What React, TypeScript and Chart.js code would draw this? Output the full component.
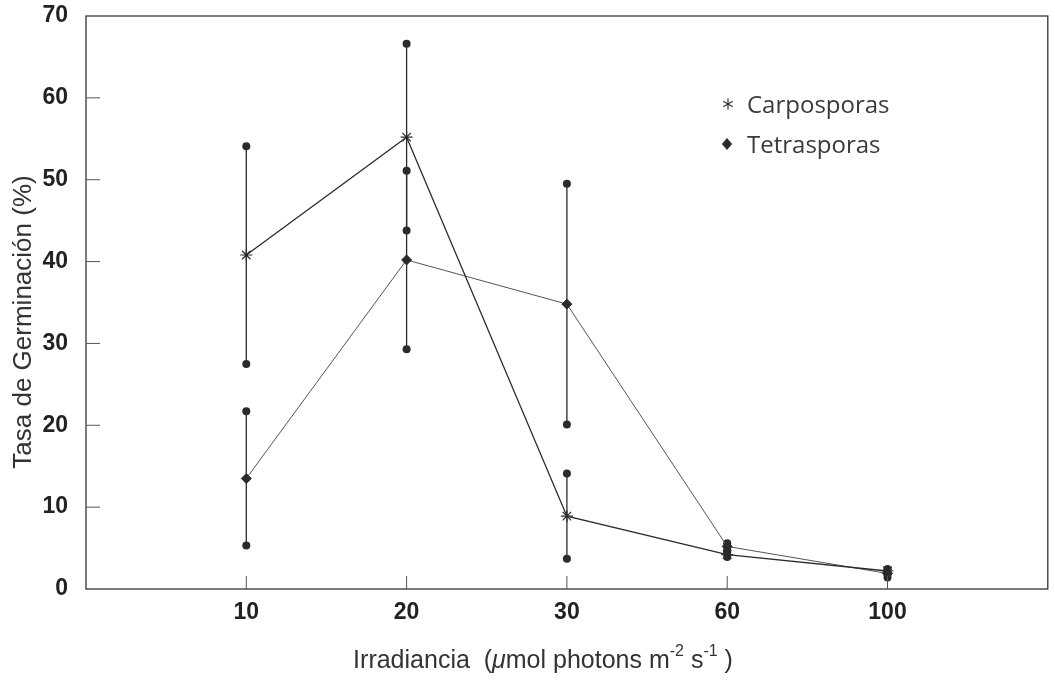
import React, { useEffect, useRef } from 'react';
import { Chart, registerables } from 'chart.js';

Chart.register(...registerables);

const irradiance = ['10', '20', '30', '60', '100'];
const carpoMean = [40.8, 55.2, 8.9, 4.2, 2.2];
const carpoErr = [13.3, 11.4, 5.2, 0.3, 0.2];
const tetraMean = [13.5, 40.2, 34.8, 5.2, 1.9];
const tetraErr = [8.2, 10.9, 14.7, 0.4, 0.5];
const yTickValues = [0, 10, 20, 30, 40, 50, 60, 70];
const legendLabels = ['Carposporas', 'Tetrasporas'];
const yTitle = 'Tasa de Germinación (%)';

const INK = '#2b2b2b';

function drawStar(ctx: CanvasRenderingContext2D, x: number, y: number, r: number) {
  ctx.beginPath();
  for (let i = 0; i < 3; i++) {
    const a = Math.PI / 2 + (i * Math.PI) / 3;
    ctx.moveTo(x + r * Math.cos(a), y + r * Math.sin(a));
    ctx.lineTo(x - r * Math.cos(a), y - r * Math.sin(a));
  }
  ctx.stroke();
}

function drawDiamond(ctx: CanvasRenderingContext2D, x: number, y: number, r: number) {
  ctx.beginPath();
  ctx.moveTo(x, y - r);
  ctx.lineTo(x + r * 0.85, y);
  ctx.lineTo(x, y + r);
  ctx.lineTo(x - r * 0.85, y);
  ctx.closePath();
  ctx.fill();
}

const decorPlugin = {
  id: 'decor',
  beforeDatasetsDraw(chart: any) {
    const { ctx, scales } = chart;
    const x = scales.x;
    const y = scales.y;
    ctx.save();
    ctx.strokeStyle = INK;
    ctx.fillStyle = INK;
    ctx.lineWidth = 1.3;
    const groups = [
      [carpoMean, carpoErr],
      [tetraMean, tetraErr],
    ];
    groups.forEach(([m, e]) => {
      m.forEach((v, i) => {
        const px = x.getPixelForValue(i);
        const top = y.getPixelForValue(v + e[i]);
        const bot = y.getPixelForValue(v - e[i]);
        ctx.beginPath();
        ctx.moveTo(px, top);
        ctx.lineTo(px, bot);
        ctx.stroke();
        [top, bot].forEach((py) => {
          ctx.beginPath();
          ctx.arc(px, py, 4, 0, Math.PI * 2);
          ctx.fill();
        });
      });
    });
    ctx.restore();
  },
  afterDraw(chart: any) {
    const { ctx, chartArea: a, scales } = chart;
    const x = scales.x;
    const y = scales.y;
    ctx.save();
    // frame
    ctx.strokeStyle = '#333';
    ctx.lineWidth = 1.3;
    ctx.strokeRect(a.left, a.top, a.right - a.left, a.bottom - a.top);
    // inward ticks
    ctx.lineWidth = 1;
    ctx.strokeStyle = '#555';
    yTickValues.slice(1, -1).forEach((v) => {
      const py = y.getPixelForValue(v);
      ctx.beginPath();
      ctx.moveTo(a.left, py);
      ctx.lineTo(a.left + 14, py);
      ctx.stroke();
    });
    irradiance.forEach((_, i) => {
      const px = x.getPixelForValue(i);
      ctx.beginPath();
      ctx.moveTo(px, a.bottom);
      ctx.lineTo(px, a.bottom - 13);
      ctx.stroke();
    });

    // legend
    ctx.strokeStyle = '#333';
    ctx.lineWidth = 1.2;
    drawStar(ctx, 728, 104, 5.5);
    ctx.fillStyle = INK;
    drawDiamond(ctx, 727, 144, 6);
    ctx.fillStyle = '#3a3a3a';
    ctx.font = '24px "Open Sans"';
    ctx.textAlign = 'left';
    ctx.textBaseline = 'alphabetic';
    ctx.fillText(legendLabels[0], 747, 113);
    ctx.fillText(legendLabels[1], 747, 153);

    // y title
    ctx.fillStyle = '#333';
    ctx.font = '26px "Liberation Sans"';
    ctx.save();
    ctx.translate(24, 322);
    ctx.rotate(-Math.PI / 2);
    ctx.textAlign = 'center';
    ctx.textBaseline = 'middle';
    ctx.fillText(yTitle, 0, 0);
    ctx.restore();

    // x title with superscripts
    const big = '25px "Liberation Sans"';
    const ital = 'italic 25px "Liberation Sans"';
    const small = '16px "Liberation Sans"';
    const parts: [string, string, number][] = [
      ['Irradiancia  (', big, 0],
      ['\u03bc', ital, 0],
      ['mol photons m', big, 0],
      ['-2', small, -12],
      [' s', big, 0],
      ['-1', small, -12],
      [' )', big, 0],
    ];
    let total = 0;
    parts.forEach(([t, f]) => {
      ctx.font = f;
      total += ctx.measureText(t).width;
    });
    let cx = 543 - total / 2;
    ctx.textAlign = 'left';
    ctx.textBaseline = 'alphabetic';
    parts.forEach(([t, f, dy]) => {
      ctx.font = f;
      ctx.fillText(t, cx, 668 + dy);
      cx += ctx.measureText(t).width;
    });
    ctx.restore();
  },
};

export default function App() {
  const ref = useRef<HTMLCanvasElement | null>(null);

  useEffect(() => {
    document.body.style.margin = '0';
    const canvas = ref.current;
    if (!canvas) return;
    const chart = new Chart(canvas, {
      type: 'line',
      data: {
        datasets: [
          {
            label: legendLabels[0],
            data: carpoMean.map((v, i) => ({ x: i, y: v })),
            borderColor: INK,
            borderWidth: 1.3,
            pointStyle: 'star',
            pointRadius: 6,
            pointBorderWidth: 1.2,
            pointBorderColor: INK,
            pointBackgroundColor: INK,
            fill: false,
            tension: 0,
          },
          {
            label: legendLabels[1],
            data: tetraMean.map((v, i) => ({ x: i, y: v })),
            borderColor: '#555',
            borderWidth: 1,
            pointStyle: 'rectRot',
            pointRadius: 5,
            pointBorderWidth: 1,
            pointBorderColor: INK,
            pointBackgroundColor: INK,
            fill: false,
            tension: 0,
          },
        ],
      },
      options: {
        animation: false,
        responsive: true,
        maintainAspectRatio: false,
        layout: { padding: { top: 16, right: 5, left: 0, bottom: 0 } },
        plugins: {
          legend: { display: false },
          tooltip: { enabled: false },
        },
        scales: {
          x: {
            type: 'linear',
            min: -1,
            max: 5,
            grid: { display: false, drawTicks: false },
            border: { display: false },
            afterBuildTicks: (scale: any) => {
              scale.ticks = irradiance.map((_, i) => ({ value: i }));
            },
            afterFit: (scale: any) => {
              scale.height = 96;
              scale.paddingLeft = 0;
              scale.paddingRight = 0;
            },
            ticks: {
              padding: 10,
              color: '#222',
              font: { family: '"Liberation Sans"', size: 23, weight: 'bold' },
              callback: (v: any) => irradiance[v] ?? '',
            },
          },
          y: {
            min: 0,
            max: 70,
            grid: { display: false, drawTicks: false },
            border: { display: false },
            afterBuildTicks: (scale: any) => {
              scale.ticks = yTickValues.map((v) => ({ value: v }));
            },
            afterFit: (scale: any) => {
              scale.width = 86;
              scale.paddingTop = 0;
              scale.paddingBottom = 0;
            },
            ticks: {
              padding: 18,
              color: '#222',
              font: { family: '"Liberation Sans"', size: 23, weight: 'bold' },
            },
          },
        },
      },
      plugins: [decorPlugin],
    });
    return () => chart.destroy();
  }, []);

  return (
    <div style={{ position: 'absolute', left: 0, top: 0, width: 1055, height: 685, background: '#fff' }}>
      <canvas ref={ref} />
    </div>
  );
}
